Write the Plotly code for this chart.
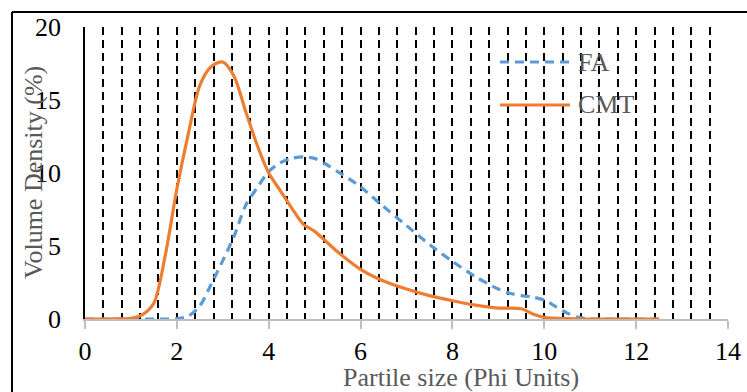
import plotly.graph_objects as go

# Data
cmt_x = [0, 0.5, 1.0, 1.25, 1.5, 1.75, 2.0, 2.25, 2.5, 2.75, 3.0, 3.25, 3.5, 3.75, 4.0,
         4.25, 4.5, 4.75, 5.0, 5.5, 6.0, 6.5, 7.0, 7.5, 8.0, 8.5, 9.0, 9.5, 9.75, 10.0,
         10.5, 11.0, 11.5, 12.0, 12.5]
cmt_y = [0, 0, 0.05, 0.3, 1.1, 4.4, 8.9, 12.7, 16.0, 17.3, 17.6, 16.6, 14.2, 11.9, 10.0,
         8.8, 7.6, 6.5, 6.0, 4.6, 3.4, 2.6, 2.05, 1.6, 1.25, 0.95, 0.75, 0.7, 0.35, 0.12,
         0.02, 0, 0, 0, 0]

fa_x = [0, 0.5, 1.0, 1.5, 2.0, 2.25, 2.5, 2.75, 3.0, 3.25, 3.5, 3.75, 4.0, 4.25, 4.5,
        4.75, 5.0, 5.25, 5.5, 5.75, 6.0, 6.5, 7.0, 7.5, 8.0, 8.5, 9.0, 9.25, 9.5, 9.75,
        10.0, 10.25, 10.5, 10.75, 11.0, 11.5, 12.0, 12.5]
fa_y = [0, 0, 0, 0, 0.02, 0.2, 0.9, 2.4, 4.0, 5.7, 7.8, 9.0, 10.1, 10.7, 11.0,
        11.1, 11.0, 10.6, 10.1, 9.6, 9.05, 7.7, 6.4, 5.1, 3.95, 2.9, 2.05, 1.76, 1.6, 1.5,
        1.3, 0.85, 0.4, 0.12, 0, 0, 0, 0]

x_tick_vals = [0, 2, 4, 6, 8, 10, 12, 14]
y_tick_vals = [0, 5, 10, 15, 20]

series_names = ["FA", "CMT"]
BLUE = "#5B9BD5"
ORANGE = "#ED7D31"
GRAY_TXT = "#595959"
FONT = "Liberation Serif, Times New Roman, serif"

fig = go.Figure()
fig.add_trace(go.Scatter(x=fa_x, y=fa_y, mode="lines", name=series_names[0],
                         line=dict(color=BLUE, width=3.2, dash="9px,6px", shape="spline", smoothing=0.8),
                         showlegend=False))
fig.add_trace(go.Scatter(x=cmt_x, y=cmt_y, mode="lines", name=series_names[1],
                         line=dict(color=ORANGE, width=3.2, shape="spline", smoothing=0.8),
                         showlegend=False))

L, R, T, B = 85, 19, 27, 73
W, H = 747, 392
pw, ph = W - L - R, H - T - B

def px(xp):
    return (xp - L) / pw

def py(yp):
    return (H - B - yp) / ph

fig.update_layout(
    width=W, height=H,
    margin=dict(l=L, r=R, t=T, b=B, autoexpand=False),
    paper_bgcolor="white", plot_bgcolor="white",
    font=dict(family=FONT, size=26, color="black"),
    showlegend=False,
    xaxis=dict(
        range=[0, 14], tickvals=x_tick_vals, ticktext=[str(v) for v in x_tick_vals],
        showline=True, linecolor="#BFBFBF", linewidth=1.5,
        ticks="outside", ticklen=8, tickwidth=1.5, tickcolor="#BFBFBF",
        showgrid=True, gridcolor="black", gridwidth=1.6, griddash="8px,5px",
        minor=dict(dtick=0.4, tick0=0, showgrid=True, gridcolor="black", gridwidth=1.6,
                   griddash="8px,5px", ticks=""),
        zeroline=False, tickfont=dict(family=FONT, size=26, color="black"),
        ticklabelstandoff=0, automargin=False,
    ),
    yaxis=dict(
        range=[0, 20], tickvals=y_tick_vals, ticktext=[str(v) for v in y_tick_vals],
        showline=True, linecolor="black", linewidth=1.5,
        ticks="outside", ticklen=17, tickcolor="rgba(0,0,0,0)",
        showgrid=False, zeroline=False, automargin=False,
        tickfont=dict(family=FONT, size=26, color="black"),
    ),
)

shapes = [
    # outer border (left and top)
    dict(type="line", xref="paper", yref="paper", x0=px(12), x1=px(12), y0=py(12), y1=py(400),
         line=dict(color="black", width=2)),
    dict(type="line", xref="paper", yref="paper", x0=px(12), x1=px(760), y0=py(12), y1=py(12),
         line=dict(color="black", width=2)),
    # legend samples
    dict(type="line", xref="paper", yref="paper", x0=px(500), x1=px(570), y0=py(62), y1=py(62),
         line=dict(color=BLUE, width=3.2, dash="9px,6px")),
    dict(type="line", xref="paper", yref="paper", x0=px(500), x1=px(570), y0=py(105), y1=py(105),
         line=dict(color=ORANGE, width=3.2)),
]
fig.update_layout(shapes=shapes)

annotations = [
    dict(text=series_names[0], xref="paper", yref="paper", x=px(576), y=py(62),
         xanchor="left", yanchor="middle", showarrow=False,
         font=dict(family=FONT, size=26, color=GRAY_TXT)),
    dict(text=series_names[1], xref="paper", yref="paper", x=px(576), y=py(105),
         xanchor="left", yanchor="middle", showarrow=False,
         font=dict(family=FONT, size=26, color=GRAY_TXT)),
    dict(text="Volume Density (%)", xref="paper", yref="paper", x=px(33), y=py(173),
         xanchor="center", yanchor="middle", textangle=-90, showarrow=False,
         font=dict(family=FONT, size=26, color=GRAY_TXT)),
    dict(text="Partile size (Phi Units)", xref="paper", yref="paper", x=px(461), y=py(377),
         xanchor="center", yanchor="middle", showarrow=False,
         font=dict(family=FONT, size=26, color=GRAY_TXT)),
]
fig.update_layout(annotations=annotations)

fig.write_html("out.html", config={"displayModeBar": False},
               post_script="document.body.style.margin='0';document.body.style.overflow='hidden';")
